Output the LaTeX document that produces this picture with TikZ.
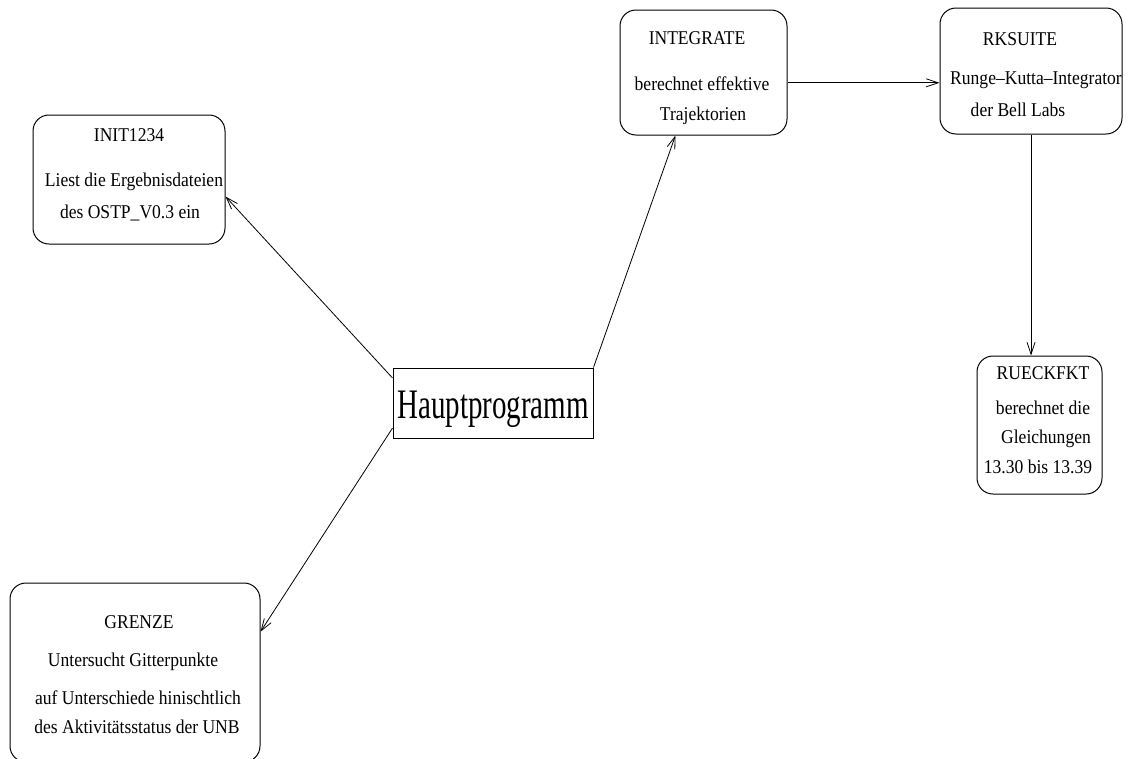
\documentclass[tikz,border=0pt]{standalone}
\usepackage{fontspec}
\usepackage{graphicx}
\setmainfont{Liberation Serif}
\usetikzlibrary{arrows.meta,calc}
% condensed text as used in the module boxes
\newcommand\nrw[1]{\scalebox{0.9}[1]{#1}}
\begin{document}
\begin{tikzpicture}[x=1pt,y=-1pt,
  box/.style={draw, line width=1pt, rounded corners=16pt, inner sep=0pt},
  plainbox/.style={draw, line width=1pt, inner sep=0pt},
  lbl/.style={anchor=base, inner sep=0pt, font=\fontsize{19.5}{22}\selectfont},
  link/.style={line width=0.8pt, -{Straight Barb[length=12pt,width=8pt,line width=0.8pt]}}]
\useasboundingbox (0,0) rectangle (1143,758);

% module boxes
\node[plainbox, minimum width=200pt, minimum height=70pt] (haupt) at (493,403) {};
\node[box, minimum width=192pt, minimum height=129pt] (init) at (129,179.5) {};
\node[box, minimum width=167pt, minimum height=125pt] (integ) at (703.5,72.5) {};
\node[box, minimum width=182pt, minimum height=126pt] (rks) at (1031,71) {};
\node[box, minimum width=125pt, minimum height=138pt] (rueck) at (1039.5,425) {};
\node[box, minimum width=250pt, minimum height=179pt] (grenze) at (135,672.5) {};

% labels
\node[anchor=base, inner sep=0pt, font=\fontsize{42}{44}\selectfont] (hauptlbl) at (493,418) {\scalebox{0.69}[1]{Hauptprogramm}};

\node[lbl] (initA) at (129,141) {\nrw{INIT1234}};
\node[lbl] (initB) at (134,186) {\nrw{Liest die Ergebnisdateien}};
\node[lbl] (initC) at (130,218) {\nrw{des OSTP\_V0.3 ein}};

\node[lbl] (integA) at (697,44) {\nrw{INTEGRATE}};
\node[lbl] (integB) at (702,90) {\nrw{berechnet effektive}};
\node[lbl] (integC) at (703,120) {\nrw{Trajektorien}};

\node[lbl] (rksA) at (1020,45) {\nrw{RKSUITE}};
\node[lbl] (rksB) at (1036,84) {\nrw{Runge--Kutta--Integrator}};
\node[lbl] (rksC) at (1018,116) {\nrw{der Bell Labs}};

\node[lbl] (rueckA) at (1043,379) {\nrw{RUECKFKT}};
\node[lbl] (rueckB) at (1043,414) {\nrw{berechnet die}};
\node[lbl] (rueckC) at (1046,443) {\nrw{Gleichungen}};
\node[lbl] (rueckD) at (1038,473) {\nrw{13.30 bis 13.39}};

\node[lbl] (grenzeA) at (139,628) {\nrw{GRENZE}};
\node[lbl] (grenzeB) at (133,666) {\nrw{Untersucht Gitterpunkte}};
\node[lbl] (grenzeC) at (138,704) {\nrw{auf Unterschiede hinischtlich}};
\node[lbl] (grenzeD) at (137,733) {\nrw{des Aktivitätsstatus der UNB}};

% call structure
\draw[link] (haupt.166) -- (init.350);
\draw[link] (haupt.north east) -- (integ.246);
\draw[link] (haupt.194) -- (grenze.18);
\draw[link] (integ.353) -- (integ.353 -| rks.west);
\draw[link] (rks.south) -- (rks.south |- rueck.north);
\end{tikzpicture}
\end{document}
